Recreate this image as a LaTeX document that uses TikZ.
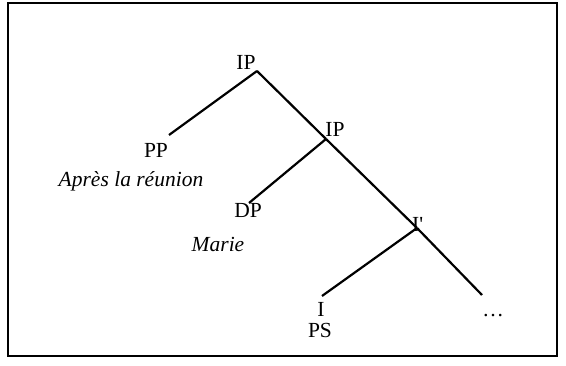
\documentclass[tikz,border=0pt]{standalone}
\usepackage{fontspec}
\setmainfont{Liberation Serif}
\begin{document}
\begin{tikzpicture}[x=1pt, y=-1pt,
    lbl/.style={anchor=base, inner sep=0pt, font=\fontsize{21.5}{24}\selectfont},
    gloss/.style={lbl, font=\fontsize{21.5}{24}\selectfont\itshape},
    branch/.style={line width=2.2pt}]
  \useasboundingbox (0,0) rectangle (566,366);
  \draw[line width=1.6pt] (8,3) rectangle (557,356);

  % branching points and leaves
  \coordinate (v1) at (257,71);
  \coordinate (v2) at (326,139);
  \coordinate (v3) at (417,228);
  \coordinate (ppend) at (169,135);
  \coordinate (dpend) at (249,203);
  \coordinate (iend) at (322,296);
  \coordinate (rest) at (482,295);

  \node (ip1)[lbl] at (246,70) {IP};
  \node (ip2)[lbl] at (335,137) {IP};
  \node (pp)[lbl] at (156,158) {PP};
  \node (apres)[gloss] at (131,187) {Après la réunion};
  \node (dp)[lbl] at (248,218) {DP};
  \node (marie)[gloss] at (218,252) {Marie};
  \node (ibar)[lbl, anchor=base west] at (412,232) {I\textquotesingle};
  \node (i)[lbl] at (321,317) {I};
  \node (ps)[lbl] at (320,338) {PS};
  \node (dots)[lbl] at (493,317) {\ldots};

  \draw[branch] (v1) -- (ppend);
  \draw[branch] (v1) -- (v2);
  \draw[branch] (v2) -- (dpend);
  \draw[branch] (v2) -- (v3);
  \draw[branch] (v3) -- (iend);
  \draw[branch] (v3) -- (rest);
\end{tikzpicture}
\end{document}
